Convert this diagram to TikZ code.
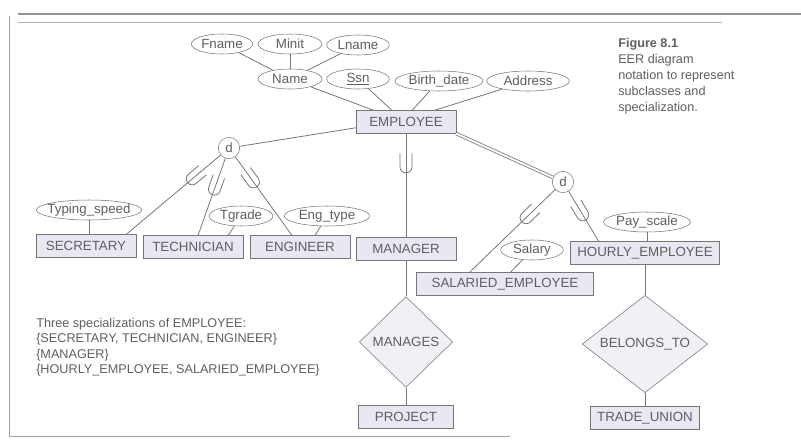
\documentclass[tikz,border=0pt]{standalone}
\usepackage{fontspec}
\setmainfont{Liberation Sans}
\usetikzlibrary{shapes.geometric, positioning, calc, decorations.markings}

\definecolor{linegray}{RGB}{118,118,118}
\definecolor{textgray}{RGB}{95,95,95}
\definecolor{boxfill}{RGB}{233,231,242}
\definecolor{relfill}{RGB}{241,240,247}

\begin{document}
\begin{tikzpicture}[x=0.75pt, y=-0.75pt,
  every node/.style={text=textgray, font=\fontsize{10}{12}\selectfont},
  entity/.style={rectangle, draw=linegray, fill=boxfill, minimum height=17pt, minimum width=75pt, inner xsep=5pt},
  attr/.style={ellipse, draw=linegray, fill=white, minimum height=15pt, minimum width=#1, inner sep=0pt},
  relship/.style={diamond, draw=linegray, fill=relfill, inner sep=0pt, aspect=1.3},
  disj/.style={circle, draw=linegray, fill=white, minimum size=16pt, inner sep=0pt},
  conn/.style={draw=linegray, line width=0.6pt},
  subcl/.style={postaction={decorate}, decoration={markings, mark=at position #1 with {
      \draw[linegray, line width=0.6pt] (-10pt,4.5pt) -- (0,4.5pt) arc[start angle=90, end angle=-90, radius=4.5pt] -- (-10pt,-4.5pt);}}}
]
\useasboundingbox (0,0) rectangle (801,443);

% frame
\draw[gray!85, line width=1pt] (18,14) -- (801,14);
\draw[gray!60, line width=0.5pt] (18,22) -- (722,22);
\draw[gray!75, line width=0.6pt] (9,16) -- (9,436) -- (510,436);

% superclass and its attributes
\node[attr=46pt] (fname) at (222,44) {Fname};
\node[attr=48pt] (minit) at (290,44) {Minit};
\node[attr=47pt] (lname) at (358,45) {Lname};
\node[attr=48pt] (name) at (290,79) {Name};
\node[attr=47pt] (ssn) at (358,79) {\underline{Ssn}};
\node[attr=66pt] (bdate) at (439,81) {Birth\_date};
\node[attr=62pt] (address) at (528,81) {Address};
\node[entity] (employee) at (406,122) {EMPLOYEE};

\draw[conn] (fname) -- (name);
\draw[conn] (minit) -- (name);
\draw[conn] (lname) -- (name);
\draw[conn] (name) -- ($(employee.north west)!0.18!(employee.north east)$);
\draw[conn] (ssn) -- ($(employee.north west)!0.36!(employee.north east)$);
\draw[conn] (bdate) -- ($(employee.north west)!0.56!(employee.north east)$);
\draw[conn] (address) -- ($(employee.north west)!0.78!(employee.north east)$);

% disjointness circles
\node[disj] (dleft) at (229,148) {d};
\node[disj] (dright) at (563,182) {d};

% subclasses
\node[entity] (secretary) at (86,246) {SECRETARY};
\node[entity] (technician) at (193,247) {TECHNICIAN};
\node[entity] (engineer) at (300,247) {ENGINEER};
\node[entity] (manager) at (406,249) {MANAGER};
\node[entity, minimum width=133pt] (salaried) at (505,284) {SALARIED\_EMPLOYEE};
\node[entity] (hourly) at (645,253) {HOURLY\_EMPLOYEE};

\node[attr=79pt, inner xsep=-5pt] (typing) at (89,210) {Typing\_speed};
\node[attr=48pt] (tgrade) at (241,216) {Tgrade};
\node[attr=64pt] (engtype) at (327,216) {Eng\_type};
\node[attr=47pt] (salary) at (532,250) {Salary};
\node[attr=62pt] (payscale) at (647,222) {Pay\_scale};

% relationships
\node[relship, minimum width=70pt, minimum height=68pt, on grid, below=69.75pt of manager] (manages) {MANAGES};
\node[entity, minimum width=71pt, on grid, below=56.25pt of manages] (project) {PROJECT};
\node[relship, minimum width=94pt, minimum height=73pt, on grid, below=68.25pt of hourly] (belongs) {BELONGS\_TO};
\node[entity, minimum width=82pt, on grid, below=55.5pt of belongs] (tradeunion) {TRADE\_UNION};

% specialization links
\draw[conn] ($(employee.south west)!0.25!(employee.north west)$) -- (dleft);
\draw[conn, subcl=0.3] (dleft) -- ($(secretary.north west)!0.9!(secretary.north east)$);
\draw[conn, subcl=0.4] (dleft) -- ($(technician.north west)!0.55!(technician.north east)$);
\draw[conn, subcl=0.32] (dleft) -- ($(engineer.north west)!0.42!(engineer.north east)$);
\draw[conn, subcl=0.32] (employee) -- (manager);
\draw[conn, double, double distance=1.4pt] (employee.south east) -- (dright);
\draw[conn, subcl=0.34] (dright) -- ($(salaried.north west)!0.3!(salaried.north east)$);
\draw[conn, subcl=0.47] (dright) -- ($(hourly.north west)!0.19!(hourly.north east)$);

% local attributes
\draw[conn] (typing) -- (typing |- secretary.north);
\draw[conn] (tgrade) -- ($(technician.north west)!0.85!(technician.north east)$);
\draw[conn] (engtype) -- ($(engineer.north west)!0.65!(engineer.north east)$);
\draw[conn] (salary) -- ($(salaried.north west)!0.53!(salaried.north east)$);
\draw[conn] (payscale) -- (payscale |- hourly.north);

\draw[conn] (manager) -- (manages) -- (project);
\draw[conn] (hourly) -- (belongs) -- (tradeunion);

% captions
\node[anchor=north west, align=left, inner sep=0pt, font=\fontsize{9.5}{11.5}\selectfont] (spec) at (36,318)
  {Three specializations of EMPLOYEE:\\\{SECRETARY, TECHNICIAN, ENGINEER\}\\\{MANAGER\}\\\{HOURLY\_EMPLOYEE, SALARIED\_EMPLOYEE\}};
\node[anchor=north west, align=left, inner sep=0pt, font=\fontsize{9.5}{12}\selectfont] (caption) at (618,38)
  {\textbf{Figure 8.1}\\EER diagram\\notation to represent\\subclasses and\\specialization.};

\end{tikzpicture}
\end{document}
